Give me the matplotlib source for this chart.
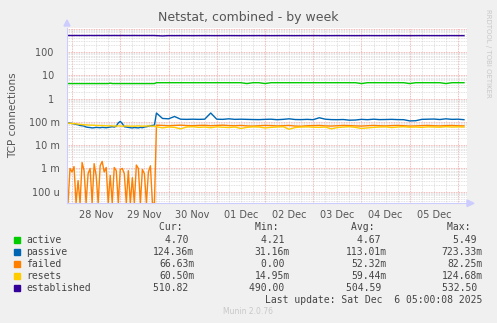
import matplotlib
matplotlib.use("Agg")
import matplotlib.pyplot as plt
import numpy as np
from matplotlib.ticker import FixedLocator, LogLocator, FuncFormatter, NullFormatter

# time in hours since 28 Nov 00:00 (hourly before the jump, 3-hourly after)
early_hours = list(range(-3, 42))
late_hours = list(range(42, 196, 3))
day_names = ["27 Nov", "28 Nov", "29 Nov", "30 Nov", "01 Dec", "02 Dec", "03 Dec", "04 Dec", "05 Dec", "06 Dec"]

# values in connections (m = 1e-3)
active = [4.4, 4.4, 4.4, 4.4, 4.4, 4.4, 4.4, 4.4, 4.4, 4.4, 4.4, 4.4, 4.4, 4.4, 4.4, 4.4, 4.4, 4.4, 4.4, 4.4,
          4.4, 4.4, 4.6, 4.4, 4.4, 4.4, 4.4, 4.4, 4.4, 4.4, 4.4, 4.4, 4.4, 4.4, 4.4, 4.4, 4.4, 4.4, 4.4, 4.4,
          4.4, 4.4, 4.4, 4.4, 4.4,
          4.8, 4.8, 4.8, 4.8, 4.8, 4.8, 4.8, 4.8, 4.8, 4.8, 4.8, 4.8, 4.8, 4.8, 4.8, 4.4, 4.8, 4.8, 4.4, 4.8,
          4.8, 4.8, 4.8, 4.8, 4.8, 4.8, 4.8, 4.8, 4.8, 4.8, 4.8, 4.8, 4.8, 4.8, 4.4, 4.8, 4.8, 4.8, 4.8, 4.8,
          4.8, 4.8, 4.4, 4.8, 4.8, 4.8, 4.8, 4.8, 4.4, 4.8, 4.8, 4.8]
passive_m = [92, 90, 88, 85, 82, 78, 75, 70, 68, 66, 60, 58, 57, 55, 56, 58, 57, 56, 58, 57,
             56, 58, 60, 62, 60, 65, 90, 105, 85, 62, 60, 58, 56, 55, 57, 56, 55, 58, 56, 60,
             62, 65, 68, 70, 72,
             240, 140, 135, 170, 130, 128, 130, 128, 130, 240, 130, 128, 135, 128, 130, 128, 126, 125, 128, 130,
             124, 128, 135, 126, 125, 128, 124, 150, 130, 125, 124, 126, 118, 120, 128, 124, 130, 125, 126, 128,
             125, 124, 110, 112, 128, 130, 132, 126, 135, 128, 130, 124]
failed_m = [0.6, 0.0, 1.0, 0.7, 1.2, 0.0, 0.3, 0.0, 1.8, 0.8, 0.0, 0.6, 1.0, 0.0, 1.6, 0.5, 0.0, 1.3, 2.0, 0.7,
            1.1, 0.0, 0.5, 0.0, 1.1, 0.8, 0.0, 0.9, 1.0, 0.6, 0.0, 0.8, 0.0, 0.4, 0.0, 1.4, 1.0, 0.0, 0.9, 0.6,
            0.0, 0.7, 1.3, 0.0, 0.0,
            72, 70, 68, 70, 72, 69, 68, 70, 71, 68, 70, 72, 69, 68, 70, 67, 66, 68, 70, 69,
            67, 68, 70, 66, 65, 68, 69, 70, 67, 66, 68, 70, 69, 67, 66, 68, 70, 68, 67, 69,
            70, 68, 66, 67, 69, 70, 68, 67, 69, 70, 68, 67]
resets_m = [90, 88, 86, 85, 84, 82, 80, 78, 76, 75, 74, 73, 72, 72, 71, 70, 70, 69, 70, 68,
            68, 67, 68, 67, 66, 66, 67, 66, 65, 66, 67, 66, 65, 66, 65, 66, 67, 66, 65, 66,
            66, 67, 66, 65, 66,
            62, 55, 60, 58, 50, 60, 62, 58, 60, 56, 61, 59, 57, 60, 52, 58, 61, 60, 55, 58,
            60, 62, 48, 57, 60, 61, 59, 58, 60, 50, 57, 60, 62, 58, 52, 55, 58, 60, 61, 57,
            60, 62, 59, 60, 58, 61, 60, 59, 62, 60, 61, 60]
established = [512, 511, 512, 510, 511, 512, 511, 510, 512, 511, 510, 511, 512, 511, 510, 511, 512, 511, 510, 511,
               512, 511, 510, 511, 512, 511, 510, 511, 512, 511, 510, 511, 510, 511, 512, 511, 510, 511, 510, 511,
               510, 511, 510, 511, 510,
               505, 492, 506, 505, 506, 505, 504, 505, 506, 505, 504, 505, 506, 505, 504, 505, 505, 506, 505, 504,
               505, 506, 505, 504, 505, 505, 506, 505, 504, 505, 506, 505, 505, 504, 505, 506, 505, 504, 505, 505,
               506, 505, 504, 505, 506, 505, 505, 504, 505, 506, 505, 505]

names = ["active", "passive", "failed", "resets", "established"]
colors = ["#00CC00", "#0066B3", "#FF8000", "#FFCC00", "#330099"]
cur = ["4.70 ", "124.36m", "66.63m", "60.50m", "510.82 "]
mins = ["4.21 ", "31.16m", "0.00 ", "14.95m", "490.00 "]
avgs = ["4.67 ", "113.01m", "52.32m", "59.44m", "504.59 "]
maxs = ["5.49 ", "723.33m", "82.25m", "124.68m", "532.50 "]

ymin, ymax = 10 ** -4.485, 10 ** 3.031
hours = np.array(early_hours + late_hours)
series = [np.array(active), np.array(passive_m) / 1000, np.array(failed_m) / 1000,
          np.array(resets_m) / 1000, np.array(established)]

W, H = 497, 323
fig = plt.figure(figsize=(W / 100, H / 100), dpi=100, facecolor="#F0F0F0")
ax = fig.add_axes([67 / W, 1 - 203 / H, (467 - 67) / W, (203 - 28) / H])
ax.set_facecolor("white")

for y, c in zip(series, colors):
    # rrdtool draws zero values at the bottom edge of the graph
    ax.plot(hours, np.maximum(y, ymin * 0.98), color=c, lw=1.0)

ax.set_yscale("log")
ax.set_ylim(ymin, ymax)
ax.set_xlim(-2.5, 196.5)

ylabels = {-4: "100 u", -3: "1 m", -2: "10 m", -1: "100 m", 0: "1  ", 1: "10  ", 2: "100  ", 3: ""}
ax.yaxis.set_major_locator(LogLocator(base=10, numticks=20))
ax.yaxis.set_minor_locator(LogLocator(base=10, subs=np.arange(2, 10), numticks=20))
ax.yaxis.set_major_formatter(FuncFormatter(lambda v, p: ylabels.get(int(round(np.log10(v))), "")))
ax.yaxis.set_minor_formatter(NullFormatter())

midnights = [24 * i for i in range(-1, 9)]
quarter = [6 * i for i in range(-1, 34)]
ax.xaxis.set_major_locator(FixedLocator(midnights))
ax.xaxis.set_minor_locator(FixedLocator(quarter))
ax.xaxis.set_major_formatter(NullFormatter())
ax.xaxis.set_minor_formatter(FuncFormatter(
    lambda v, p: day_names[int(v // 24) + 1] if int(round(v)) % 24 == 12 else ""))

ax.grid(which="minor", color="#D8D8D8", lw=0.6, linestyle=(0, (1, 1)))
ax.grid(which="major", color="#F0A0A0", lw=0.6, linestyle=(0, (1, 1)))
ax.set_axisbelow(True)
ax.tick_params(which="both", length=0, colors="#555555", labelsize=7)
ax.tick_params(axis="y", pad=5)
ax.tick_params(axis="x", which="minor", pad=5)

for s in ["top", "right"]:
    ax.spines[s].set_visible(False)
for s in ["left", "bottom"]:
    ax.spines[s].set_color("#CCCCFF")
    ax.spines[s].set_linewidth(0.8)
# axis arrows
fig.patches.append(plt.Polygon([[64 / W, 1 - 26 / H], [70 / W, 1 - 26 / H], [67 / W, 1 - 20 / H]],
                               closed=True, transform=fig.transFigure, color="#CCCCFF"))
fig.patches.append(plt.Polygon([[467 / W, 1 - 200 / H], [467 / W, 1 - 206.5 / H], [474 / W, 1 - 203.3 / H]],
                               closed=True, transform=fig.transFigure, color="#CCCCFF"))

fig.text(248 / W, 1 - 18 / H, "Netstat, combined - by week", ha="center", va="center",
         fontsize=9, color="#555555")
fig.text(13 / W, 1 - 115 / H, "TCP connections", rotation=90, ha="center", va="center",
         fontsize=7.5, color="#555555")
fig.text(488 / W, 1 - 53 / H, "RRDTOOL / TOBI OETIKER", rotation=270, ha="center", va="center",
         fontsize=5, color="#C8C8C8")

mono = "DejaVu Sans Mono"
fs = 7
row_y = [239.7, 251.7, 263.7, 275.7, 287.7]
col_x = [194.3, 290, 386.7, 482.7]
for x, h in zip(col_x, ["Cur:  ", "Min:  ", "Avg:  ", "Max:  "]):
    fig.text(x / W, 1 - 227.5 / H, h, ha="right", va="center", family=mono, fontsize=fs, color="#444444")
for i, n in enumerate(names):
    yy = 1 - row_y[i] / H
    fig.patches.append(plt.Rectangle((14 / W, 1 - (row_y[i] + 3) / H), 6 / W, 6 / H,
                                     transform=fig.transFigure, color=colors[i]))
    fig.text(26.5 / W, yy, n, ha="left", va="center", family=mono, fontsize=fs, color="#444444")
    for x, v in zip(col_x, [cur[i], mins[i], avgs[i], maxs[i]]):
        fig.text(x / W, yy, v, ha="right", va="center", family=mono, fontsize=fs, color="#444444")
fig.text(482.7 / W, 1 - 300 / H, "Last update: Sat Dec  6 05:00:08 2025", ha="right", va="center",
         family=mono, fontsize=fs, color="#444444")
fig.text(248 / W, 1 - 311.7 / H, "Munin 2.0.76", ha="center", va="center", fontsize=5.5, color="#C8C8C8")

fig.savefig("out.png", dpi=100, facecolor=fig.get_facecolor())
